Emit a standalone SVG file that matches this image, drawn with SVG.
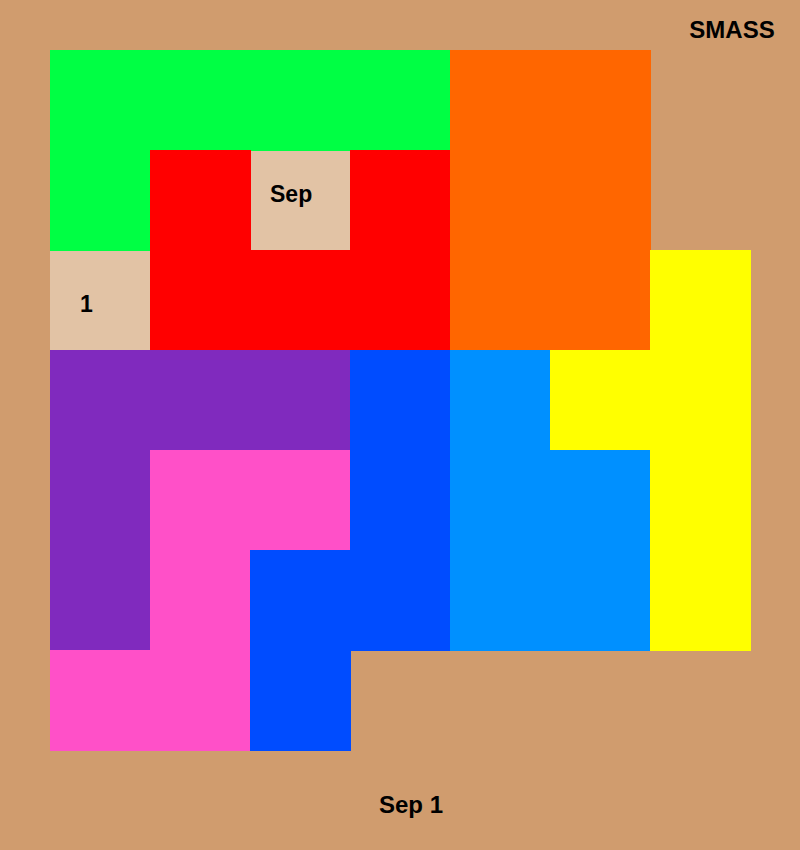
<svg xmlns="http://www.w3.org/2000/svg" width="800" height="850" viewBox="0 0 800 850">
<style>
text{font-family:"Liberation Sans",Arial,sans-serif;font-weight:bold;fill:#000}
.lbl{font-size:23px}
</style>
<rect x="0" y="0" width="800" height="850" fill="#D09C6E"/>
<g id="cell-sep"><rect x="250" y="150" width="101" height="101" fill="#E2C3A5"/><text class="lbl" x="270" y="202">Sep</text></g>
<g id="cell-1"><rect x="50" y="250" width="101" height="101" fill="#E2C3A5"/><text class="lbl" x="80" y="312">1</text></g>
<g id="green"><path d="M50 50H451V151H151V251H50Z" fill="#00FF44"/></g>
<g id="red"><path d="M150 150H251V251H150Z M350 150H451V351H150V250H350Z" fill="#FF0000"/></g>
<g id="orange"><path d="M450 50H651V351H450Z" fill="#FF6600"/></g>
<g id="yellow"><path d="M650 250H751V651H650V451H550V350H650Z" fill="#FFFF00"/></g>
<g id="purple"><path d="M50 350H351V451H151V651H50Z" fill="#802ABE"/></g>
<g id="blue"><path d="M350 350H451V651H351V751H250V550H350Z" fill="#004CFF"/></g>
<g id="lightblue"><path d="M450 350H550V450H650V651H450Z" fill="#0090FF"/></g>
<g id="pink"><path d="M150 450H350V550H250V751H50V650H150Z" fill="#FF50C8"/></g>
<text x="732" y="37.5" font-size="24" text-anchor="middle">SMASS</text>
<text x="411" y="812.5" font-size="24" text-anchor="middle">Sep 1</text>
</svg>
